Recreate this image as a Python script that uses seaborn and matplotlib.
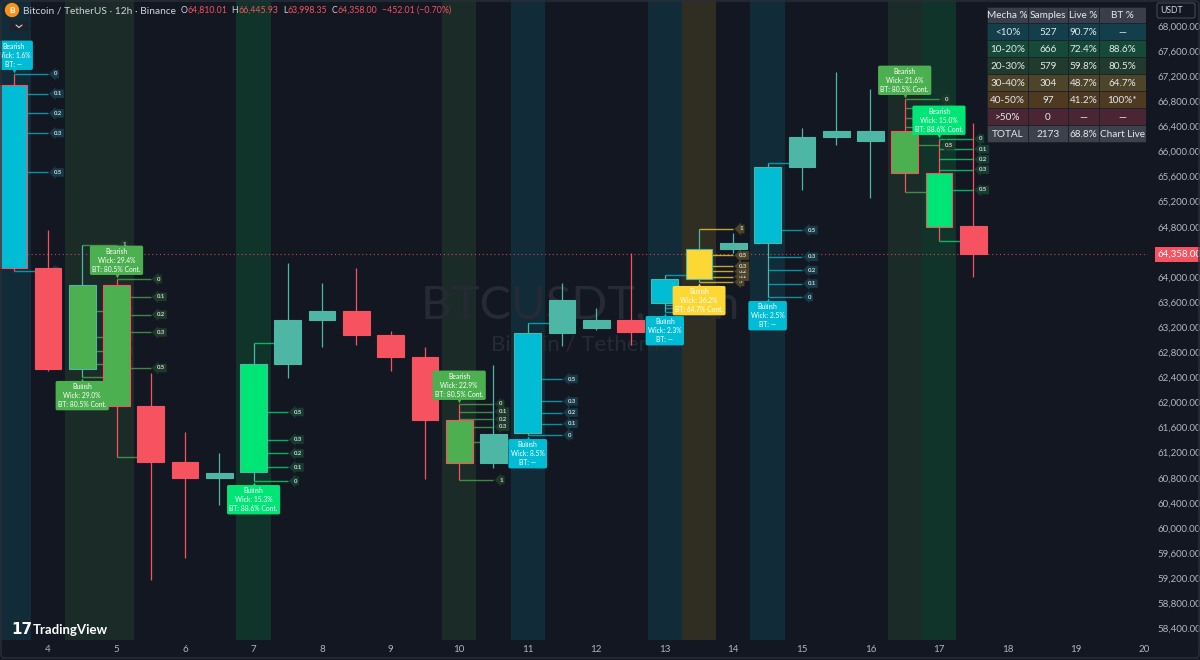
import matplotlib
matplotlib.use("Agg")
import matplotlib.pyplot as plt
import seaborn as sns
import pandas as pd
from matplotlib.patches import Rectangle, FancyBboxPatch, Circle
from matplotlib import transforms

# ---------------- data ----------------
days = [3.5, 4.0, 4.5, 5.0, 5.5, 6.0, 6.5, 7.0, 7.5, 8.0, 8.5, 9.0, 9.5, 10.0, 10.5,
        11.0, 11.5, 12.0, 12.5, 13.0, 13.5, 14.0, 14.5, 15.0, 15.5, 16.0, 16.5, 17.0, 17.5]
opens = [67060, 64143, 62533, 63871, 61943, 61050, 60795, 60891, 62612, 63314, 63457, 63075, 62724, 61720, 61034,
         61513, 63106, 63186, 63314, 63585, 63967, 64445, 64541, 65752, 66230, 66167, 66326, 65657, 64810.01]
highs = [67235, 64748, 64509, 63967, 62469, 61528, 61194, 62947, 64222, 63904, 64143, 63140, 62883, 61975, 62600,
         63266, 63904, 63500, 64382, 64031, 64764, 64700, 65816, 66374, 67267, 66996, 66836, 66199, 66445.93]
lows = [64095, 62500, 62406, 61130, 59169, 59520, 60365, 60747, 62389, 62883, 62915, 62500, 60779, 60763, 60955,
        61480, 62900, 63150, 62915, 63441, 63920, 64382, 63680, 65386, 66100, 65260, 65354, 64573, 63998.35]
closes = [64143, 62533, 63871, 61943, 61050, 60795, 60875, 62612, 63314, 63457, 63075, 62724, 61720, 61034, 61497,
          63106, 63632, 63314, 63122, 63967, 64445, 64541, 65752, 66231, 66326, 66326, 65657, 64796, 64358.00]

sig_index = [0, 2, 3, 7, 13, 15, 19, 20, 22, 26, 27]
sig_class = ["<10%", "20-30%", "20-30%", "10-20%", "20-30%", "<10%", "<10%", "30-40%", "<10%", "20-30%", "10-20%"]
sig_wick = ["1.6%", "29.0%", "29.4%", "15.3%", "22.9%", "8.5%", "2.3%", "36.2%", "2.5%", "21.6%", "15.0%"]
sig_bt = ["—", "80.5% Cont.", "80.5% Cont.", "88.6% Cont.", "80.5% Cont.", "—", "—", "64.7% Cont.", "—",
          "80.5% Cont.", "88.6% Cont."]
fib_levels = [0, 0.1, 0.2, 0.3, 0.5, 1]
fib_labels = ["0", "0.1", "0.2", "0.3", "0.5", "1"]

table_header = ["Mecha %", "Samples", "Live %", "BT %"]
table_mecha = ["<10%", "10-20%", "20-30%", "30-40%", "40-50%", ">50%", "TOTAL"]
table_samples = ["527", "666", "579", "304", "97", "0", "2173"]
table_live = ["90.7%", "72.4%", "59.8%", "48.7%", "41.2%", "—", "68.8%"]
table_bt = ["—", "88.6%", "80.5%", "64.7%", "100%*", "—", "Chart Live"]

price_ticks = list(range(58400, 68001, 400))
day_ticks = list(range(4, 21))
last_price = 64358.00
header_title = "Bitcoin / TetherUS · 12h · Binance"
header_ohlc = [("O", "64,810.01"), ("H", "66,445.93"), ("L", "63,998.35"), ("C", "64,358.00")]
header_change = "−452.01 (−0.70%)"

# ---------------- style ----------------
BG = "#131722"
UP = "#4db6a5"
DOWN = "#f7525f"
TXT = "#d1d4dc"
AXT = "#b2b5be"
cls_color = {"<10%": "#00bcd4", "10-20%": "#00e676", "20-30%": "#4caf50", "30-40%": "#fdd835"}
cls_col_bg = {"<10%": "#112b38", "10-20%": "#10342a", "20-30%": "#1b2b27", "30-40%": "#302d23"}
cls_tag_bg = {"<10%": "#163a47", "10-20%": "#173d30", "20-30%": "#1f3a29", "30-40%": "#4b4426"}
row_colors = ["#133e4c", "#164a38", "#213a2e", "#4d4429", "#4d3a21", "#4a2634", "#3d414c"]
header_color = "#3a3e4a"

sns.set_theme(style="dark", rc={
    "axes.facecolor": BG, "figure.facecolor": BG, "axes.edgecolor": BG,
    "text.color": TXT, "xtick.color": AXT, "ytick.color": AXT, "axes.grid": False,
})
plt.rcParams["font.family"] = ["Lato", "DejaVu Sans"]

fig = plt.figure(figsize=(12, 6.6), dpi=100)
ax = fig.add_axes([0, 20 / 660, 1148 / 1200, 640 / 660])
ax.set_facecolor(BG)
ax.set_xlim(3.30, 20.05)
ax.set_ylim(58213, 68414)
for s in ax.spines.values():
    s.set_visible(False)

df = pd.DataFrame(dict(day=days, open=opens, high=highs, low=lows, close=closes))
df["bull"] = df["close"] >= df["open"]
df["fill"] = [UP if b else DOWN for b in df["bull"]]
df["edge"] = df["fill"]
df["wick"] = df["fill"]
for i, c in zip(sig_index, sig_class):
    df.loc[i, "fill"] = cls_color[c]

# background columns for signal candles
for i, c in zip(sig_index, sig_class):
    ax.axvspan(days[i] - 0.25, days[i] + 0.25, color=cls_col_bg[c], zorder=0.2, lw=0)

# watermark
ax.text(0.505, 0.523, "BTCUSDT, 12h", transform=ax.transAxes, fontsize=34, color="#252a35",
        ha="center", va="center", zorder=0.5)
ax.text(0.505, 0.462, "Bitcoin / Tetherus", transform=ax.transAxes, fontsize=16, color="#252a35",
        ha="center", va="center", zorder=0.5)

# last price dotted line
ax.axhline(last_price, color=DOWN, ls=(0, (1, 2.5)), lw=0.8, alpha=0.8, zorder=0.8)

# fib levels + tags
for i, c in zip(sig_index, sig_class):
    d, h, l = days[i], highs[i], lows[i]
    bull = closes[i] >= opens[i]
    for f, lab in zip(fib_levels, fib_labels):
        lvl = l + f * (h - l) if bull else h - f * (h - l)
        ax.hlines(lvl, d, d + 0.5, color=cls_color[c], lw=1.0, alpha=0.75, zorder=1.5)
        ax.annotate(lab, xy=(d + 0.5, lvl), xytext=(4.2, 0), textcoords="offset points",
                    ha="left", va="center", fontsize=4.3, color=TXT, fontweight="bold",
                    bbox=dict(boxstyle="larrow,pad=0.3", fc=cls_tag_bg[c], ec="none"), zorder=2)

# candles
ax.vlines(df["day"], df["low"], df["high"], colors=df["wick"], lw=0.9, zorder=3)
ax.bar(df["day"], df["close"] - df["open"], bottom=df["open"], width=0.39,
       color=df["fill"], edgecolor=df["edge"], linewidth=0.8, zorder=4)

# callout boxes
for i, c, w, bt in zip(sig_index, sig_class, sig_wick, sig_bt):
    d = days[i]
    bull = closes[i] >= opens[i]
    txt = f"{'Bullish' if bull else 'Bearish'}\nWick: {w}\nBT: {bt}"
    if bull:
        y, off, va, mk = lows[i], -4.6, "top", "^"
    else:
        y, off, va, mk = highs[i], 4.6, "bottom", "v"
    ax.annotate(txt, xy=(d, y), xytext=(0, off), textcoords="offset points", ha="center", va=va,
                fontsize=4.9, color="white", linespacing=1.3, multialignment="center",
                bbox=dict(boxstyle="round,pad=0.35,rounding_size=0.25", fc=cls_color[c], ec="none"),
                zorder=6, annotation_clip=False, clip_on=True)
    tr = transforms.offset_copy(ax.transData, fig=fig, x=0, y=(-2.6 if bull else 2.6), units="points")
    ax.plot([d], [y], marker=mk, ms=4, color=cls_color[c], mec="none", transform=tr, zorder=6)

# axes ticks
ax.yaxis.tick_right()
ax.set_yticks(price_ticks)
ax.set_yticklabels([f"{p:,.2f}" for p in price_ticks])
ax.set_xticks(day_ticks)
ax.set_xticklabels([str(d) for d in day_ticks])
ax.tick_params(axis="y", length=0, pad=7, labelsize=7, colors=AXT)
ax.tick_params(axis="x", length=0, pad=3.5, labelsize=7, colors=AXT)

# last price tag
ax.annotate(f"{last_price:,.2f}", xy=(1.0, last_price), xycoords=("axes fraction", "data"),
            xytext=(7, 0), textcoords="offset points", ha="left", va="center", fontsize=7,
            color="white", bbox=dict(boxstyle="square,pad=0.3", fc=DOWN, ec="none"),
            annotation_clip=False, zorder=7)

# ---------------- overlay (pixel coords) ----------------
ov = fig.add_axes([0, 0, 1, 1], zorder=5)
ov.set_xlim(0, 1200)
ov.set_ylim(660, 0)
ov.axis("off")

# header
ov.add_patch(Circle((12, 10), 6.5, color="#f7931a"))
ov.text(12, 10.5, "B", fontsize=6, color="white", ha="center", va="center", fontweight="bold")
prev = ov.text(23, 10.5, header_title, fontsize=7.3, color=TXT, va="center")
pieces = []
for k, v in header_ohlc:
    pieces.append((k, TXT, 3.0))
    pieces.append((v, DOWN, 0.4))
pieces.append((header_change, DOWN, 3.0))
for s, col, gap in pieces:
    prev = ov.annotate(s, xy=(1, 0.5), xycoords=prev, xytext=(gap, 0), textcoords="offset points",
                       fontsize=6.3, color=col, va="center", ha="left")
ov.add_patch(FancyBboxPatch((10, 21), 18, 10, boxstyle="round,pad=0,rounding_size=2", fc="#1e222d", ec="none"))
ov.plot([16, 19, 22], [25, 27.5, 25], color=TXT, lw=0.8)

# USDT box
ov.add_patch(FancyBboxPatch((1157, 3), 38, 15, boxstyle="round,pad=0,rounding_size=2",
                            fc=BG, ec="#434651", lw=0.8))
ov.text(1160, 10.5, "USDT", fontsize=6.2, color=TXT, va="center")

# table
col_x = [987, 1028, 1068, 1099, 1146]
row_y = [7, 23.5, 40.5, 57.5, 74.5, 91.5, 108.5, 125.5, 142.5]
ov.add_patch(Rectangle((col_x[0], row_y[0]), col_x[-1] - col_x[0], row_y[-1] - row_y[0], fc="#1e222d", ec="none"))
rows = [table_header] + [list(r) for r in zip(table_mecha, table_samples, table_live, table_bt)]
colors = [header_color] + row_colors
for r, (vals, rc) in enumerate(zip(rows, colors)):
    y0, y1 = row_y[r], row_y[r + 1]
    for ci, v in enumerate(vals):
        x0, x1 = col_x[ci], col_x[ci + 1]
        ov.add_patch(Rectangle((x0 + 0.5, y0 + 0.5), x1 - x0 - 1, y1 - y0 - 1, fc=rc, ec="none"))
        ov.text((x0 + x1) / 2, (y0 + y1) / 2 + 0.5, v, fontsize=7.2, color="#e6e8ee", ha="center", va="center")

# TradingView logo
ov.text(11, 630, "17", fontsize=11, color="white", fontweight="bold", va="center", family="DejaVu Sans")
ov.text(33, 630, "TradingView", fontsize=9.5, color="white", fontweight="bold", va="center")

# frame
ov.add_patch(FancyBboxPatch((1, 1), 1198, 657, boxstyle="round,pad=0,rounding_size=4", fc="none",
                            ec="#2a2e39", lw=1))

fig.savefig("out.png", dpi=100, facecolor=BG)
